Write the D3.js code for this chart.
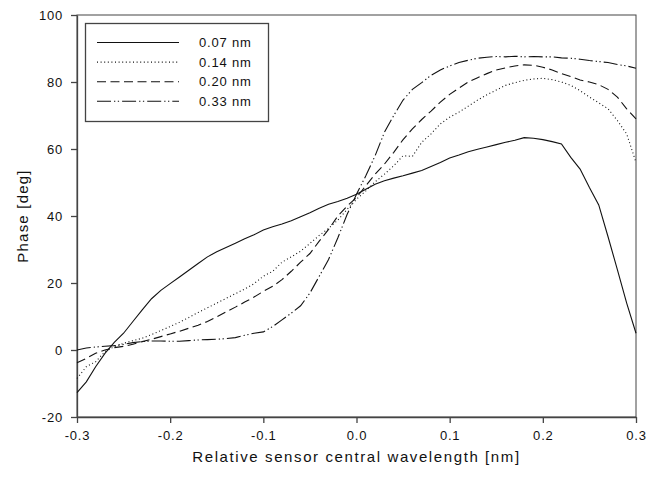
<!DOCTYPE html>
<html>
<head>
<meta charset="utf-8">
<script src="https://cdn.jsdelivr.net/npm/d3@7"></script>
<style>
  body { margin: 0; background: #fff; }
  text { font-family: "Liberation Sans", Arial, sans-serif; fill: #111; }
</style>
</head>
<body>
<div id="container"></div>
<script>
// wavelength offsets [nm], shared by all four series
const wavelength = [
  -0.30, -0.29, -0.28, -0.27, -0.26, -0.25, -0.24, -0.23, -0.22, -0.21,
  -0.20, -0.19, -0.18, -0.17, -0.16, -0.15, -0.14, -0.13, -0.12, -0.11,
  -0.10, -0.09, -0.08, -0.07, -0.06, -0.05, -0.04, -0.03, -0.02, -0.01,
  0.00, 0.01, 0.02, 0.03, 0.04, 0.05, 0.06, 0.07, 0.08, 0.09,
  0.10, 0.11, 0.12, 0.13, 0.14, 0.15, 0.16, 0.17, 0.18, 0.19,
  0.20, 0.21, 0.22, 0.23, 0.24, 0.25, 0.26, 0.27, 0.28, 0.29, 0.30
];

// phase [deg]
const phase007 = [
  -12.7, -9.5, -5, -1, 2.3, 5, 8.5, 12, 15.3, 17.8,
  19.8, 21.8, 23.8, 25.8, 27.8, 29.3, 30.6, 31.9, 33.2, 34.4,
  35.8, 36.8, 37.6, 38.6, 39.8, 41, 42.3, 43.5, 44.3, 45.3,
  46.5, 48, 49.5, 50.5, 51.3, 52, 52.8, 53.6, 54.8, 56,
  57.3, 58.2, 59.2, 59.9, 60.6, 61.3, 62, 62.6, 63.4, 63.2,
  62.8, 62.2, 61.5, 57.5, 54, 48.5, 43.3, 33.8, 24, 14, 5
];
const phase014 = [
  -8.5, -5, -3.5, -0.5, 1, 2, 2.8, 3.5, 4.6, 5.8,
  7, 8.3, 9.7, 11.2, 12.6, 14, 15.4, 16.8, 18.2, 19.8,
  22, 23.5, 26.2, 27.8, 29.5, 31.8, 34.2, 36.3, 38.8, 42,
  45, 47.5, 50.2, 52.5, 55, 58, 57.8, 62, 64.5, 67.5,
  69.5, 71, 72.8, 74.6, 76.2, 77.6, 79, 79.8, 80.5, 80.9,
  81.1, 80.7, 80, 79, 77.4, 75.5, 73.8, 72, 68.5, 64.5, 56
];
const phase020 = [
  -3.8, -2.5, -1, 0, 0.7, 1.1, 1.7, 2.5, 3.2, 4,
  4.8, 5.6, 6.5, 7.4, 8.5, 9.9, 11.4, 12.8, 14.3, 15.8,
  17.5, 19, 21, 23.5, 26.2, 28.8, 32.5, 36, 40, 43,
  45.5, 49, 52.5, 55.5, 59, 62.8, 66, 68.8, 71.3, 74,
  76.3, 78.2, 80, 81.3, 82.5, 83.6, 84.2, 84.8, 85.1, 85,
  84.4, 83.6, 82.5, 81.6, 80.6, 80, 79.2, 77.8, 75.5, 72, 69
];
const phase033 = [
  0, 0.6, 0.9, 1.1, 1.3, 1.7, 2.2, 2.5, 2.7, 2.7,
  2.6, 2.6, 2.8, 3, 3.1, 3.2, 3.4, 3.7, 4.4, 5,
  5.4, 7, 9, 11, 13.2, 17, 22, 27, 33.5, 40.5,
  46.5, 52, 58, 65, 70, 74.6, 77.8, 79.8, 82, 83.6,
  84.8, 85.8, 86.5, 87.1, 87.4, 87.6, 87.5, 87.7, 87.5, 87.6,
  87.5, 87.5, 87.2, 87.1, 86.8, 86.4, 86.1, 85.8, 85.2, 84.8, 84.1
];

const seriesNames = ["0.07 nm", "0.14 nm", "0.20 nm", "0.33 nm"];
const seriesValues = [phase007, phase014, phase020, phase033];
const dashes = ["none", "1,2.6", "9,4.5", "14,3,1.3,2.5,1.3,3"];

const xTicks = [-0.3, -0.2, -0.1, 0.0, 0.1, 0.2, 0.3];
const yTicks = [-20, 0, 20, 40, 60, 80, 100];

const width = 660, height = 477;
const margin = { top: 15, right: 24, bottom: 60, left: 77 };
const w = width - margin.left - margin.right;
const h = height - margin.top - margin.bottom;

const svg = d3.select("#container")
  .append("svg")
  .attr("width", width)
  .attr("height", height);

const g = svg.append("g")
  .attr("transform", `translate(${margin.left},${margin.top})`);

const x = d3.scaleLinear().domain([-0.3, 0.3]).range([0, w]);
const y = d3.scaleLinear().domain([-20, 100]).range([h, 0]);

// frame (top and right edges, no ticks)
g.append("rect")
  .attr("width", w)
  .attr("height", h)
  .attr("fill", "none")
  .attr("stroke", "#444")
  .attr("stroke-width", 1);

const xAxis = g.append("g")
  .attr("transform", `translate(0,${h})`)
  .call(d3.axisBottom(x).tickValues(xTicks).tickSize(6).tickSizeOuter(0)
    .tickPadding(8).tickFormat(d => d.toFixed(1)));

const yAxis = g.append("g")
  .call(d3.axisLeft(y).tickValues(yTicks).tickSize(6).tickSizeOuter(0)
    .tickPadding(8).tickFormat(d => String(d)));

[xAxis, yAxis].forEach(a => {
  a.select(".domain").attr("stroke", "#444").attr("stroke-width", 1.3);
  a.selectAll(".tick line").attr("stroke", "#444").attr("stroke-width", 1.3);
  a.selectAll(".tick text")
    .attr("font-family", "Liberation Sans, Arial, sans-serif")
    .attr("font-size", 13)
    .attr("letter-spacing", 0.8)
    .attr("fill", "#111");
});

// curves
const line = d3.line()
  .x((d, i) => x(wavelength[i]))
  .y(d => y(d));

g.selectAll(".curve")
  .data(seriesValues)
  .join("path")
  .attr("class", "curve")
  .attr("fill", "none")
  .attr("stroke", "#111")
  .attr("stroke-width", 1.1)
  .attr("stroke-dasharray", (d, i) => dashes[i])
  .attr("d", line);

// axis titles
svg.append("text")
  .attr("x", margin.left + w / 2)
  .attr("y", 462)
  .attr("text-anchor", "middle")
  .attr("font-size", 15)
  .attr("letter-spacing", 1.6)
  .text("Relative sensor central wavelength [nm]");

svg.append("text")
  .attr("transform", `translate(28,${margin.top + h / 2}) rotate(-90)`)
  .attr("text-anchor", "middle")
  .attr("font-size", 15)
  .attr("letter-spacing", 1.2)
  .text("Phase [deg]");

// legend
const legend = svg.append("g");
legend.append("rect")
  .attr("x", 85.5)
  .attr("y", 23.5)
  .attr("width", 183)
  .attr("height", 98)
  .attr("fill", "#fff")
  .attr("stroke", "#444")
  .attr("stroke-width", 1.3);

const rows = legend.selectAll(".row")
  .data(seriesNames)
  .join("g")
  .attr("class", "row")
  .attr("transform", (d, i) => `translate(0,${42.5 + i * 19.6})`);

rows.append("line")
  .attr("x1", 97)
  .attr("x2", 179)
  .attr("stroke", "#111")
  .attr("stroke-width", 1.1)
  .attr("stroke-dasharray", (d, i) => dashes[i]);

rows.append("text")
  .attr("x", 199)
  .attr("dy", "0.35em")
  .attr("font-size", 13)
  .attr("letter-spacing", 0.8)
  .text(d => d);
</script>
</body>
</html>
